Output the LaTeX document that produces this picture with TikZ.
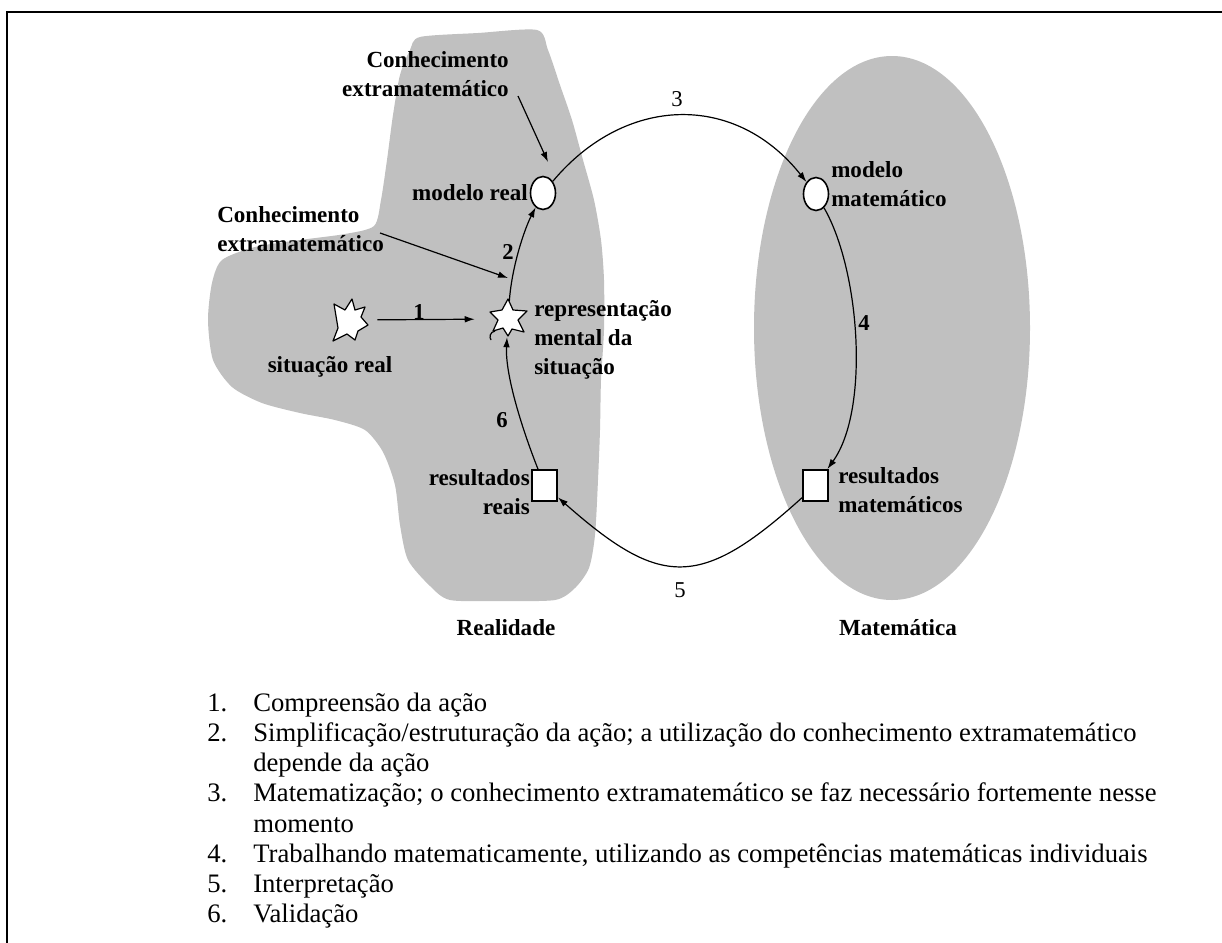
\documentclass[tikz,border=0pt]{standalone}
\usepackage{fontspec}
\setmainfont{Liberation Serif}
\usetikzlibrary{arrows.meta,shapes.geometric}
\definecolor{zone}{RGB}{192,192,192}
\begin{document}
\begin{tikzpicture}[x=0.75pt,y=-0.75pt,
  lbl/.style={font=\bfseries\fontsize{17.3}{21.6}\selectfont, inner sep=0pt},
  num/.style={font=\bfseries\fontsize{17}{20}\selectfont, inner sep=0pt},
  numlight/.style={font=\fontsize{17}{20}\selectfont, inner sep=0pt},
  item/.style={font=\fontsize{20}{22.6}\selectfont, inner sep=0pt, anchor=base west},
  oval/.style={ellipse, draw, fill=white, line width=1.2pt, minimum width=18.75pt, minimum height=24.75pt, inner sep=0pt},
  box/.style={rectangle, draw, fill=white, line width=1.2pt, minimum width=19pt, minimum height=23.5pt, inner sep=0pt},
  hub/.style={circle, minimum size=27pt, inner sep=0pt},
  flow/.style={line width=0.9pt, -{Latex[length=7.5pt,width=5pt]}},
  starline/.style={draw, fill=white, line width=0.9pt, line join=round}
]
% page
\fill[white] (0,0) rectangle (1222,943);
\useasboundingbox (0,0) rectangle (1222,943);
% frame (open to the right and bottom)
\draw[line width=1.6pt] (7,943) -- (7,12) -- (1222,12);

% Realidade region
\fill[zone] plot[smooth cycle, tension=0.45] coordinates {
  (420,37) (478,33) (537,30) (548,50) (560,85) (572,120) (583,160)
  (594,200) (601,240) (604,280) (604,330) (601,380) (600,430) (598,480)
  (595,535) (589,568) (575,588) (555,600) (500,601) (450,600) (430,586)
  (408,560) (400,525) (395,485) (383,452) (365,430) (335,420) (300,413)
  (262,403) (232,387) (213,360) (208,320) (212,283) (222,260) (255,247)
  (300,240) (345,234) (374,226) (381,200) (387,160) (393,115) (400,75)
  (410,50)};
% Matematica region
\fill[zone] (892,328) ellipse [x radius=138, y radius=272];

% stations of the cycle
\node[oval] (mr) at (543,193) {};
\node[oval] (mm) at (816,194) {};
\node[box] (rm) at (815.5,485.5) {};
\node[box] (rr) at (544.5,485.5) {};
\node[hub] (sr) at (350,320) {};
\node[hub] (rep) at (508,319) {};

% star outlines
\begin{scope}[shift={(350,320)}]
  \path[starline] (2,-21) -- (5,-10) -- (15,-13) -- (11,-3) -- (18,5) -- (8,11)
    -- (5,20) -- (-3,14) -- (-17,21) -- (-12,8) -- (-13,2) -- (-16,-16)
    -- (-5,-10) -- cycle;
\end{scope}
\begin{scope}[shift={(508,319)}]
  \path[starline] (0,-20) -- (5,-9) -- (19,-8) -- (10,1) -- (16,13) -- (4,10)
    -- (0,17) -- (-5,9) -- (-15,12) -- (-10,1) -- (-18,-7) -- (-6,-9) -- cycle;
  \draw[line width=0.9pt] (-13,12) .. controls (-18,13) and (-19,18) .. (-17,21);
\end{scope}

% labels
\node[lbl, anchor=east] (mrl) at (528,193) {modelo real};
\node[lbl, anchor=west, align=left] (mml) at (831,184) {modelo\\matemático};
\node[lbl, anchor=west, align=left] (rml) at (838,490) {resultados\\matemáticos};
\node[lbl, anchor=east, align=right] (rrl) at (530,492) {resultados\\reais};
\node[lbl, anchor=west, align=left] (repl) at (534,340) {representação\\mental da\\situação};
\node[lbl] (srl) at (330,367) {situação real};
\node[lbl, anchor=east, align=right] (ck1) at (509,74) {Conhecimento\\extramatemático};
\node[lbl, anchor=west, align=left] (ck2) at (217,229) {Conhecimento\\extramatemático};
\node[lbl] (real) at (506,628) {Realidade};
\node[lbl] (mat) at (898,628) {Matemática};

% step numbers
\node[num] (n1) at (419,312) {1};
\node[num] (n2) at (508,252) {2};
\node[numlight] (n3) at (677,99) {3};
\node[num] (n4) at (864,323) {4};
\node[numlight] (n5) at (680,590) {5};
\node[num] (n6) at (502,420) {6};

% cycle connectors
\draw[flow, shorten <=6.75pt, shorten >=11.25pt] (sr) -- (rep);
\draw[flow] (rep) .. controls +(4,-54) and +(-18,35) .. (mr);
\draw[flow] (mr) .. controls +(82,-98) and +(-81,-102) .. (mm);
\draw[flow] (mm) .. controls +(44,76) and +(54.5,-75.5) .. (rm);
\draw[flow] (rm) .. controls +(-115.5,104.5) and +(116,102.5) .. (rr);
\draw[flow] (rr) .. controls +(-22,-55.5) and +(-3,56) .. (rep);

% extra-mathematical knowledge inputs
\coordinate (k1tip) at (548,162);
\coordinate (k2tip) at (508,278);
\draw[flow] ([shift={(9,22)}]ck1.east) -- (k1tip);
\draw[flow] ([shift={(-4,4)}]ck2.east) -- (k2tip);

% legend
\node[item] (i1n) at (207,711) {1.};
\node[item] (i1t) at (253,711) {Compreensão da ação};
\node[item] (i2n) at (207,741) {2.};
\node[item] (i2t) at (253,741) {Simplificação/estruturação da ação; a utilização do conhecimento extramatemático};
\node[item] (i2u) at (253,771) {depende da ação};
\node[item] (i3n) at (207,801) {3.};
\node[item] (i3t) at (253,801) {Matematização; o conhecimento extramatemático se faz necessário fortemente nesse};
\node[item] (i3u) at (253,832) {momento};
\node[item] (i4n) at (207,862) {4.};
\node[item] (i4t) at (253,862) {Trabalhando matematicamente, utilizando as competências matemáticas individuais};
\node[item] (i5n) at (207,892) {5.};
\node[item] (i5t) at (253,892) {Interpretação};
\node[item] (i6n) at (207,922) {6.};
\node[item] (i6t) at (253,922) {Validação};
\end{tikzpicture}
\end{document}
